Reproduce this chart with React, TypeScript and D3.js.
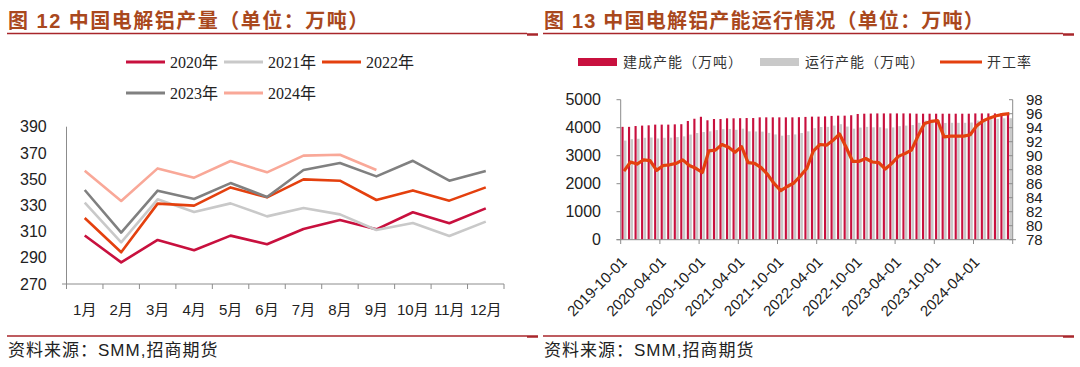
import React from "react";
import * as d3 from "d3";

// ---- left chart: monthly output, 10k tonnes
const months = ["1月", "2月", "3月", "4月", "5月", "6月", "7月", "8月", "9月", "10月", "11月", "12月"];
const y2020 = [307, 286.5, 303.6, 295.7, 306.9, 300.3, 312, 318.8, 311.7, 324.7, 316.3, 327.7];
const y2021 = [332, 301.8, 334.6, 325, 331.5, 321.6, 328, 323.1, 311.2, 316.5, 306.6, 317.6];
const y2022 = [320.4, 294.2, 331.3, 329.8, 343.7, 336.1, 349.8, 348.8, 334.1, 341.4, 333.6, 343.7];
const y2023 = [341.7, 309.2, 341.2, 334.8, 347, 336.4, 357, 362.3, 352.1, 364, 348.8, 356.2];
const y2024 = [356.4, 333.3, 358.2, 351.1, 363.8, 355.2, 367.9, 368.6, 357];
const leftTicks = [270, 290, 310, 330, 350, 370, 390];

// ---- right chart: capacity (10k t) and operating rate (%)
const builtCap = [
  4030, 4030, 4060, 4075, 4085, 4110, 4110, 4110, 4120, 4125, 4240, 4320, 4390, 4265, 4310,
  4310, 4335, 4335, 4340, 4345, 4345, 4370, 4370, 4370, 4370, 4370, 4370, 4375, 4385, 4395,
  4395, 4405, 4420, 4430, 4430, 4445, 4490, 4500, 4505, 4510, 4510, 4510, 4510, 4510, 4510,
  4500, 4500, 4500, 4500, 4500, 4500, 4500, 4500, 4500, 4510, 4510, 4510, 4510, 4520, 4520,
];
const runCap = [
  3540, 3590, 3605, 3640, 3650, 3615, 3640, 3645, 3665, 3690, 3755, 3810, 3845, 3870, 3915,
  3950, 3955, 3925, 3965, 3870, 3865, 3860, 3815, 3760, 3715, 3740, 3760, 3810, 3870, 3985,
  4025, 4030, 4075, 4125, 4040, 3965, 4005, 4030, 4015, 4015, 3975, 4010, 4055, 4075, 4095,
  4175, 4255, 4270, 4275, 4170, 4175, 4175, 4175, 4185, 4255, 4285, 4305, 4315, 4335, 4340,
];
const opRate = [
  87.8, 89.1, 88.8, 89.4, 89.3, 87.9, 88.6, 88.7, 88.9, 89.4, 88.6, 88.2, 87.6, 90.7, 90.8,
  91.6, 91.2, 90.5, 91.3, 89.0, 88.9, 88.3, 87.3, 86.0, 85.0, 85.6, 86.1, 87.1, 88.2, 90.7,
  91.6, 91.5, 92.2, 93.1, 91.2, 89.2, 89.2, 89.6, 89.1, 89.0, 88.1, 88.9, 89.9, 90.3, 90.8,
  92.8, 94.6, 94.9, 95.0, 92.7, 92.8, 92.8, 92.8, 93.0, 94.3, 95.0, 95.4, 95.7, 95.9, 96.0,
];
const capTicks = [0, 1000, 2000, 3000, 4000, 5000];
const rateTicks = [78, 80, 82, 84, 86, 88, 90, 92, 94, 96, 98];

const fmt = d3.timeFormat("%Y-%m-%d");
const dates = d3.timeMonth.range(new Date(2019, 9, 1), new Date(2024, 9, 1)).map(fmt);

const TITLE_COLOR = "#A9481D";
const RULE_COLOR = "#A8262B";
const AXIS = "#8c8c8c";
const SANS = "'Liberation Sans', Arial, 'Noto Sans CJK SC', sans-serif";
const CJK = "'Noto Sans CJK SC', sans-serif";

const series = [
  { name: "2020年", data: y2020, color: "#C8103E" },
  { name: "2021年", data: y2021, color: "#C9C9C9" },
  { name: "2022年", data: y2022, color: "#E4400E" },
  { name: "2023年", data: y2023, color: "#808080" },
  { name: "2024年", data: y2024, color: "#F9A898" },
];

function Frame({ x0, x1, title, spacing }: { x0: number; x1: number; title: string; spacing: number }) {
  return (
    <g>
      <text x={x0 + 1} y={28} fontFamily={SANS} fontWeight="bold" fontSize={20}
        letterSpacing={spacing} fill={TITLE_COLOR}>{title}</text>
      <line x1={x0} x2={x1} y1={33.5} y2={33.5} stroke={RULE_COLOR} strokeWidth={1.5} />
      <line x1={x1} x2={x1 + 11} y1={34.5} y2={34.5} stroke={RULE_COLOR} strokeWidth={2.5} />
      <line x1={x0} x2={x1} y1={336} y2={336} stroke={RULE_COLOR} strokeWidth={1.5} />
      <line x1={x1} x2={x1 + 11} y1={336.5} y2={336.5} stroke={RULE_COLOR} strokeWidth={2.5} />
      <text x={x0 + 1} y={356} fontSize={17} letterSpacing={1} fill="#222" fontFamily={CJK}>
        资料来源：<tspan fontFamily={SANS}>SMM,</tspan>招商期货
      </text>
    </g>
  );
}

function LeftChart() {
  const x = d3.scaleBand().domain(months).range([66.5, 504]);
  const y = d3.scaleLinear().domain([270, 390]).range([284, 126.7]);
  const bw = x.bandwidth();
  const line = d3.line<number>()
    .x((_, i) => (x(months[i]) as number) + bw / 2)
    .y((d) => y(d));
  const edges = d3.range(months.length + 1).map((i) => 66.5 + i * bw);
  return (
    <g>
      <Frame x0={7} x1={527} spacing={1.5} title="图 12 中国电解铝产量（单位：万吨）" />
      {series.map((s, i) => {
        const lx = 126 + (i % 3) * 98;
        const ly = i < 3 ? 62 : 93;
        return (
          <g key={s.name}>
            <line x1={lx} x2={lx + 39} y1={ly} y2={ly} stroke={s.color} strokeWidth={3} />
            <text x={lx + 44} y={ly + 5.5} fontSize={16} fill="#222"
              fontFamily="'Liberation Serif', 'Times New Roman', 'Noto Sans CJK SC', serif">{s.name}</text>
          </g>
        );
      })}
      <line x1={66.5} x2={66.5} y1={126.7} y2={284} stroke={AXIS} strokeWidth={1} />
      <line x1={62} x2={504} y1={284} y2={284} stroke={AXIS} strokeWidth={1} />
      {edges.map((e) => (
        <line key={e} x1={e} x2={e} y1={284} y2={289} stroke={AXIS} strokeWidth={1} />
      ))}
      {leftTicks.map((t) => (
        <text key={t} x={46.7} y={y(t)} dy="0.35em" textAnchor="end" fontSize={16}
          fontFamily={SANS} fill="#222">{t}</text>
      ))}
      {months.map((m) => (
        <text key={m} x={(x(m) as number) + bw / 2} y={315} textAnchor="middle" fontSize={15}
          fontFamily={SANS} fill="#222">{m}</text>
      ))}
      {series.map((s) => (
        <path key={s.name} d={line(s.data) || ""} fill="none" stroke={s.color}
          strokeWidth={2.6} strokeLinejoin="round" />
      ))}
    </g>
  );
}

function RightChart() {
  const x = d3.scaleBand().domain(dates).range([620.7, 1012.7]);
  const bw = x.bandwidth();
  const inner = d3.scaleBand().domain(["built", "run"]).range([0, bw]).paddingOuter(0.3);
  const y = d3.scaleLinear().domain([0, 5000]).range([239.7, 99.7]);
  const yr = d3.scaleLinear().domain([78, 98]).range([239.7, 99.7]);
  const line = d3.line<number>()
    .x((_, i) => (x(dates[i]) as number) + bw / 2)
    .y((d) => yr(d));
  const tickIdx = d3.range(0, dates.length + 1, 6);
  return (
    <g>
      <Frame x0={543} x1={1063} spacing={1.2} title="图 13 中国电解铝产能运行情况（单位：万吨）" />
      {/* legend */}
      <rect x={578} y={58} width={39} height={8} fill="#C8103E" />
      <text x={623} y={67} fontSize={14} letterSpacing={1} fontFamily={CJK} fill="#333">建成产能（万吨）</text>
      <rect x={760} y={58} width={39} height={8} fill="#C9C9C9" />
      <text x={805} y={67} fontSize={14} letterSpacing={1} fontFamily={CJK} fill="#333">运行产能（万吨）</text>
      <line x1={940} x2={982} y1={62} y2={62} stroke="#E4400E" strokeWidth={3} />
      <text x={987} y={67} fontSize={14} letterSpacing={1} fontFamily={CJK} fill="#333">开工率</text>

      {dates.map((d, i) => (
        <g key={d} transform={`translate(${x(d)},0)`}>
          <rect x={inner("built")} width={inner.bandwidth() * 0.85} y={y(builtCap[i])}
            height={y(0) - y(builtCap[i])} fill="#C8103E" />
          <rect x={inner("run")} width={inner.bandwidth()} y={y(runCap[i])}
            height={y(0) - y(runCap[i])} fill="#C9C9C9" />
        </g>
      ))}
      <path d={line(opRate) || ""} fill="none" stroke="#E4400E" strokeWidth={3.2} strokeLinejoin="round" />

      {/* axes */}
      <line x1={620.7} x2={620.7} y1={99.7} y2={239.7} stroke={AXIS} />
      {capTicks.map((t) => (
        <g key={t}>
          <line x1={616.5} x2={620.7} y1={y(t)} y2={y(t)} stroke={AXIS} />
          <text x={601} y={y(t)} dy="0.35em" textAnchor="end" fontSize={16} fontFamily={SANS} fill="#222">{t}</text>
        </g>
      ))}
      <line x1={1012.7} x2={1012.7} y1={99.7} y2={239.7} stroke={AXIS} />
      {rateTicks.map((t) => (
        <g key={t}>
          <line x1={1009} x2={1012.7} y1={yr(t)} y2={yr(t)} stroke={AXIS} />
          <text x={1026} y={yr(t)} dy="0.35em" fontSize={15} fontFamily={SANS} fill="#222">{t}</text>
        </g>
      ))}
      <line x1={616.5} x2={1016} y1={239.7} y2={239.7} stroke={AXIS} />
      {tickIdx.map((i) => {
        const px = 620.7 + i * bw;
        return (
          <g key={i}>
            <line x1={px} x2={px} y1={239.7} y2={244} stroke={AXIS} />
            {i < dates.length && (
              <text transform={`translate(${px + 7},263) rotate(-45)`} textAnchor="end"
                fontSize={15} fontFamily={SANS} fill="#222">{dates[i]}</text>
            )}
          </g>
        );
      })}
    </g>
  );
}

export default function App() {
  return (
    <div style={{ position: "absolute", left: 0, top: 0 }}>
      <svg width={1080} height={367} style={{ display: "block", background: "#fff" }}>
        <LeftChart />
        <RightChart />
      </svg>
    </div>
  );
}
